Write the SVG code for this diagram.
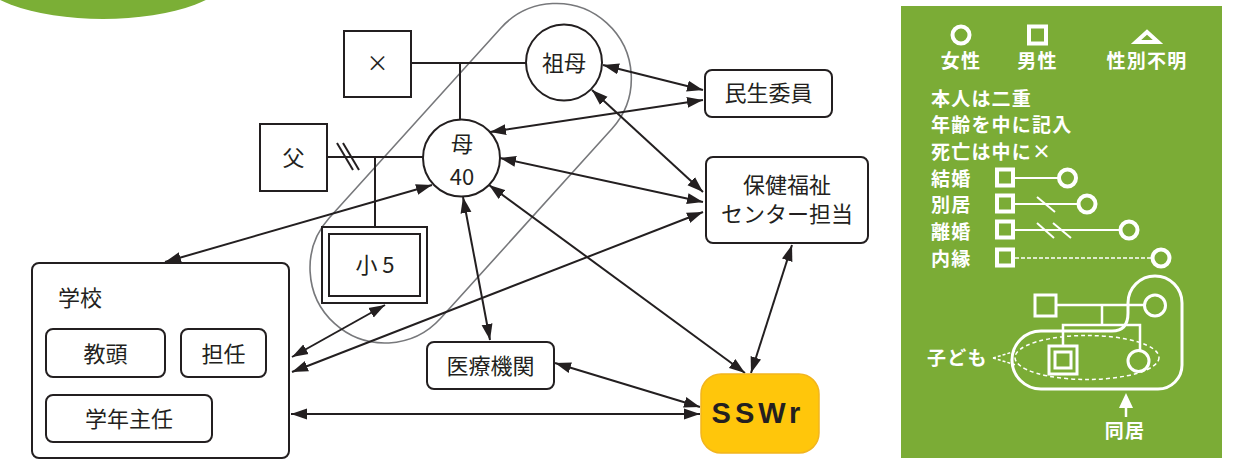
<svg xmlns="http://www.w3.org/2000/svg" width="1238" height="472" viewBox="0 0 1238 472">
<defs>
<style>
.ln{stroke:#231F20;stroke-width:2;fill:none}
.bx{stroke:#231F20;stroke-width:2;fill:#fff}
.t{font-family:"Noto Sans CJK JP","Noto Sans",sans-serif;fill:#231F20;font-size:22px}
.c{text-anchor:middle}
.w{stroke:#fff;fill:none}
.wt{font-family:"Noto Sans CJK JP","Noto Sans",sans-serif;fill:#fff;font-size:19px;font-weight:bold;letter-spacing:1.2px}
.ar{stroke:#231F20;stroke-width:2;fill:none;marker-start:url(#ah);marker-end:url(#ah)}
</style>
<marker id="ah" viewBox="0 0 16 12" refX="16" refY="6" markerWidth="16" markerHeight="12" markerUnits="userSpaceOnUse" orient="auto-start-reverse">
<path d="M0,0.5 L16,6 L0,11.5 Z" fill="#231F20"/>
</marker>
</defs>
<rect width="1238" height="472" fill="#fff"/>
<ellipse cx="103" cy="-30" rx="130" ry="49" fill="#7BAF36"/>

<rect x="268.25" y="99" width="405.5" height="150" rx="75" ry="75" transform="rotate(-47.9 470 174)" fill="none" stroke="#77787B" stroke-width="1.6"/>

<g id="genogram-lines">
<line class="ln" x1="411" y1="63" x2="526" y2="63"/>
<line class="ln" x1="460" y1="63" x2="460" y2="119"/>
<line class="ln" x1="327" y1="157" x2="423" y2="157"/>
<line class="ln" x1="375" y1="157" x2="375" y2="227"/>
<line class="ln" x1="337" y1="143" x2="353" y2="170"/>
<line class="ln" x1="343" y1="143" x2="359" y2="170"/>
</g>

<g id="connectors">
<line class="ar" x1="603" y1="65" x2="703" y2="90"/>
<line class="ar" x1="490" y1="132" x2="703" y2="100"/>
<line class="ar" x1="592" y1="90" x2="703" y2="192"/>
<line class="ar" x1="500" y1="158" x2="703" y2="202"/>
<line class="ar" x1="292" y1="372" x2="703" y2="212"/>
<line class="ar" x1="432" y1="185" x2="165" y2="262"/>
<line class="ar" x1="463" y1="197" x2="490" y2="340"/>
<line class="ar" x1="489" y1="185" x2="745" y2="373"/>
<line class="ar" x1="792" y1="245" x2="751" y2="373"/>
<line class="ar" x1="555" y1="363" x2="700" y2="407"/>
<line class="ar" x1="291" y1="414" x2="700" y2="414"/>
<line class="ar" x1="385" y1="305" x2="292" y2="357"/>
</g>

<g id="n-dead">
<rect class="bx" x="344" y="31" width="67" height="66"/>
<text class="t c" x="377.5" y="71" font-size="20">×</text>
</g>
<g id="n-father">
<rect class="bx" x="260" y="124" width="67" height="67"/>
<text class="t c" x="293.5" y="166">父</text>
</g>
<g id="n-grandmother">
<circle class="bx" cx="564" cy="62.5" r="38"/>
<text class="t c" x="564" y="71">祖母</text>
</g>
<g id="n-mother">
<circle class="bx" cx="461.5" cy="158" r="38.5"/>
<text class="t c" x="462" y="152" font-size="20">母</text>
<text class="t c" x="462" y="185" font-size="28">40</text>
</g>
<g id="n-child">
<rect class="bx" x="322" y="227" width="105" height="76" stroke-width="2.2"/>
<rect class="bx" x="329" y="234" width="91" height="62" stroke-width="2.2"/>
<text class="t c" x="375" y="273">小 5</text>
</g>
<g id="n-minsei">
<rect class="bx" x="705" y="70" width="127" height="47" rx="7"/>
<text class="t c" x="768.5" y="101">民生委員</text>
</g>
<g id="n-hoken">
<rect class="bx" x="706" y="157" width="162" height="86" rx="7"/>
<text class="t c" x="787" y="193">保健福祉</text>
<text class="t c" x="787" y="222">センター担当</text>
</g>
<g id="n-school">
<rect class="bx" x="32" y="263" width="257" height="195" rx="7"/>
<text class="t" x="58" y="306">学校</text>
<rect class="bx" x="46" y="329" width="119" height="48" rx="7"/>
<text class="t c" x="105.5" y="362">教頭</text>
<rect class="bx" x="181" y="329" width="85" height="48" rx="7"/>
<text class="t c" x="223.5" y="362">担任</text>
<rect class="bx" x="46" y="395" width="166" height="47" rx="7"/>
<text class="t c" x="129" y="427">学年主任</text>
</g>
<g id="n-medical">
<rect class="bx" x="427" y="342" width="127" height="47" rx="7"/>
<text class="t c" x="490.5" y="374">医療機関</text>
</g>
<g id="n-sswr">
<rect x="701" y="374" width="118" height="79" rx="20" fill="#FFC60B" stroke="#F2B51E" stroke-width="1.5"/>
<text x="758" y="423" text-anchor="middle" font-family="'Liberation Sans',Arial,sans-serif" font-weight="bold" font-size="29" letter-spacing="4" fill="#231F20">SSWr</text>
</g>

<g id="legend">
<rect x="901" y="6" width="321" height="452" fill="#7BAC36"/>
<circle class="w" cx="961" cy="35" r="8.5" stroke-width="4"/>
<rect class="w" x="1029" y="26.5" width="17" height="17" stroke-width="4"/>
<polygon class="w" points="1147,32 1158,42 1136,42" stroke-width="4"/>
<text class="wt" x="961" y="68" text-anchor="middle">女性</text>
<text class="wt" x="1037.5" y="68" text-anchor="middle">男性</text>
<text class="wt" x="1147" y="68" text-anchor="middle">性別不明</text>
<text class="wt" x="931" y="106">本人は二重</text>
<text class="wt" x="931" y="132">年齢を中に記入</text>
<text class="wt" x="931" y="159">死亡は中に×</text>
<text class="wt" x="931" y="186">結婚</text>
<text class="wt" x="931" y="212">別居</text>
<text class="wt" x="931" y="239">離婚</text>
<text class="wt" x="931" y="266">内縁</text>
<g stroke="#fff" fill="none">
<rect x="997" y="169.5" width="16" height="16" stroke-width="4"/>
<line x1="1015" y1="178" x2="1058" y2="178" stroke-width="2"/>
<circle cx="1067.5" cy="178" r="8.5" stroke-width="4"/>
<rect x="997" y="195.5" width="16" height="16" stroke-width="4"/>
<line x1="1015" y1="204" x2="1078" y2="204" stroke-width="2"/>
<line x1="1037" y1="197" x2="1055" y2="212" stroke-width="2"/>
<circle cx="1087" cy="204" r="8.5" stroke-width="4"/>
<rect x="997" y="221.5" width="16" height="16" stroke-width="4"/>
<line x1="1015" y1="230" x2="1120" y2="230" stroke-width="2"/>
<line x1="1037" y1="223" x2="1054" y2="238" stroke-width="2"/>
<line x1="1053" y1="223" x2="1071" y2="238" stroke-width="2"/>
<circle cx="1129" cy="230" r="8.5" stroke-width="4"/>
<rect x="997" y="249.5" width="16" height="16" stroke-width="4"/>
<line x1="1015" y1="258" x2="1152" y2="258" stroke-width="1.5" stroke-dasharray="4 2"/>
<circle cx="1161" cy="258" r="8.5" stroke-width="4"/>

<rect x="1035" y="295" width="21" height="21" stroke-width="3"/>
<circle cx="1155" cy="305.5" r="10.5" stroke-width="3"/>
<line x1="1056" y1="305" x2="1144" y2="305" stroke-width="2.5"/>
<line x1="1102" y1="305" x2="1102" y2="325" stroke-width="2.5"/>
<polyline points="1063,346 1063,325 1140,325 1140,351" stroke-width="2.5"/>
<rect x="1049" y="346" width="28" height="28" stroke-width="3"/>
<rect x="1055" y="352" width="16" height="16" stroke-width="3"/>
<circle cx="1138.5" cy="361" r="10.5" stroke-width="3"/>
<ellipse cx="1087" cy="357.5" rx="72" ry="22" stroke-width="1.5" stroke-dasharray="4 3"/>
<path d="M1041,331 L1112,331 Q1128,331 1128,313 L1128,303 A27,27 0 0 1 1182,303 L1182,365 A24,24 0 0 1 1158,389 L1041,389 A29,29 0 0 1 1041,331 Z" stroke-width="3"/>
<line x1="993" y1="358" x2="1016" y2="351" stroke-width="1.5" stroke-dasharray="3 2"/>
<line x1="993" y1="358" x2="1016" y2="365" stroke-width="1.5" stroke-dasharray="3 2"/>
<line x1="1126" y1="404" x2="1126" y2="417" stroke-width="2.5"/>
</g>
<polygon points="1126,393 1133,408 1119,408" fill="#fff"/>
<text class="wt" x="927" y="365">子ども</text>
<text class="wt" x="1125" y="438" text-anchor="middle">同居</text>
</g>
</svg>
